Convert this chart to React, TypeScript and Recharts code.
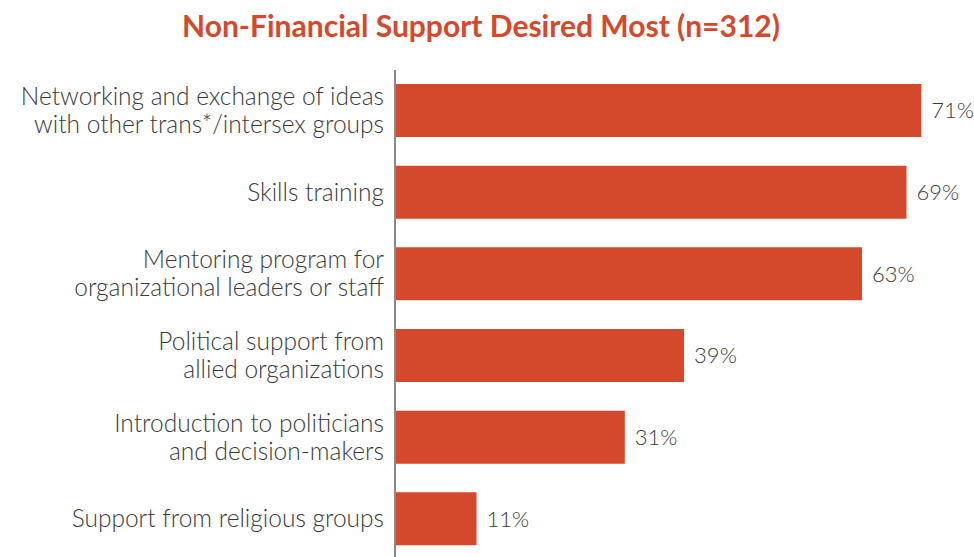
import { BarChart, Bar, XAxis, YAxis, LabelList } from 'recharts';

const categories = [
  'Networking and exchange of ideas\nwith other trans*/intersex groups',
  'Skills training',
  'Mentoring program for\norganizational leaders or staff',
  'Political support from\nallied organizations',
  'Introduction to politicians\nand decision-makers',
  'Support from religious groups',
];
const shares = [71, 69, 63, 39, 31, 11];

const data = categories.map((name, i) => ({ name, value: shares[i] }));

const BAR = '#D4492B';
const TEXT = '#3a3a3a';
const FONT = 'Lato, "Open Sans", sans-serif';

function CategoryTick({ x, y, payload }: any) {
  const lines = String(payload.value).split('\n');
  const lh = 28;
  const start = -((lines.length - 1) * lh) / 2;
  return (
    <text x={x} y={y} textAnchor="end" fill={TEXT} fontFamily={FONT} fontWeight={300} fontSize={24.5}>
      {lines.map((l, i) => (
        <tspan key={i} x={x} dy={i === 0 ? start + 8 : lh}>
          {l}
        </tspan>
      ))}
    </text>
  );
}

export default function App() {
  return (
    <div style={{ position: 'absolute', left: 0, top: 0, width: 974, height: 557, overflow: 'hidden', background: '#fff' }}>
      <div
        style={{
          position: 'absolute',
          left: 0,
          top: 7,
          width: 962,
          textAlign: 'center',
          color: BAR,
          fontFamily: FONT,
          fontWeight: 700,
          fontSize: 30,
          lineHeight: '36px',
        }}
      >
        Non-Financial Support Desired Most (n=312)
      </div>
      <BarChart
        width={974}
        height={560}
        data={data}
        layout="vertical"
        margin={{ top: 70, right: 23, left: 0, bottom: 0 }}
        barSize={53}
      >
        <XAxis type="number" domain={[0, 75]} hide />
        <YAxis
          type="category"
          dataKey="name"
          width={395}
          axisLine={{ stroke: '#8c8884', strokeWidth: 2 }}
          tickLine={false}
          tickMargin={5}
          tick={<CategoryTick />}
          interval={0}
        />
        <Bar dataKey="value" fill={BAR} isAnimationActive={false}>
          <LabelList
            dataKey="value"
            position="right"
            offset={10}
            formatter={(v: any) => `${v}%`}
            style={{ fill: TEXT, fontFamily: FONT, fontWeight: 300, fontSize: 22 }}
          />
        </Bar>
      </BarChart>
    </div>
  );
}
